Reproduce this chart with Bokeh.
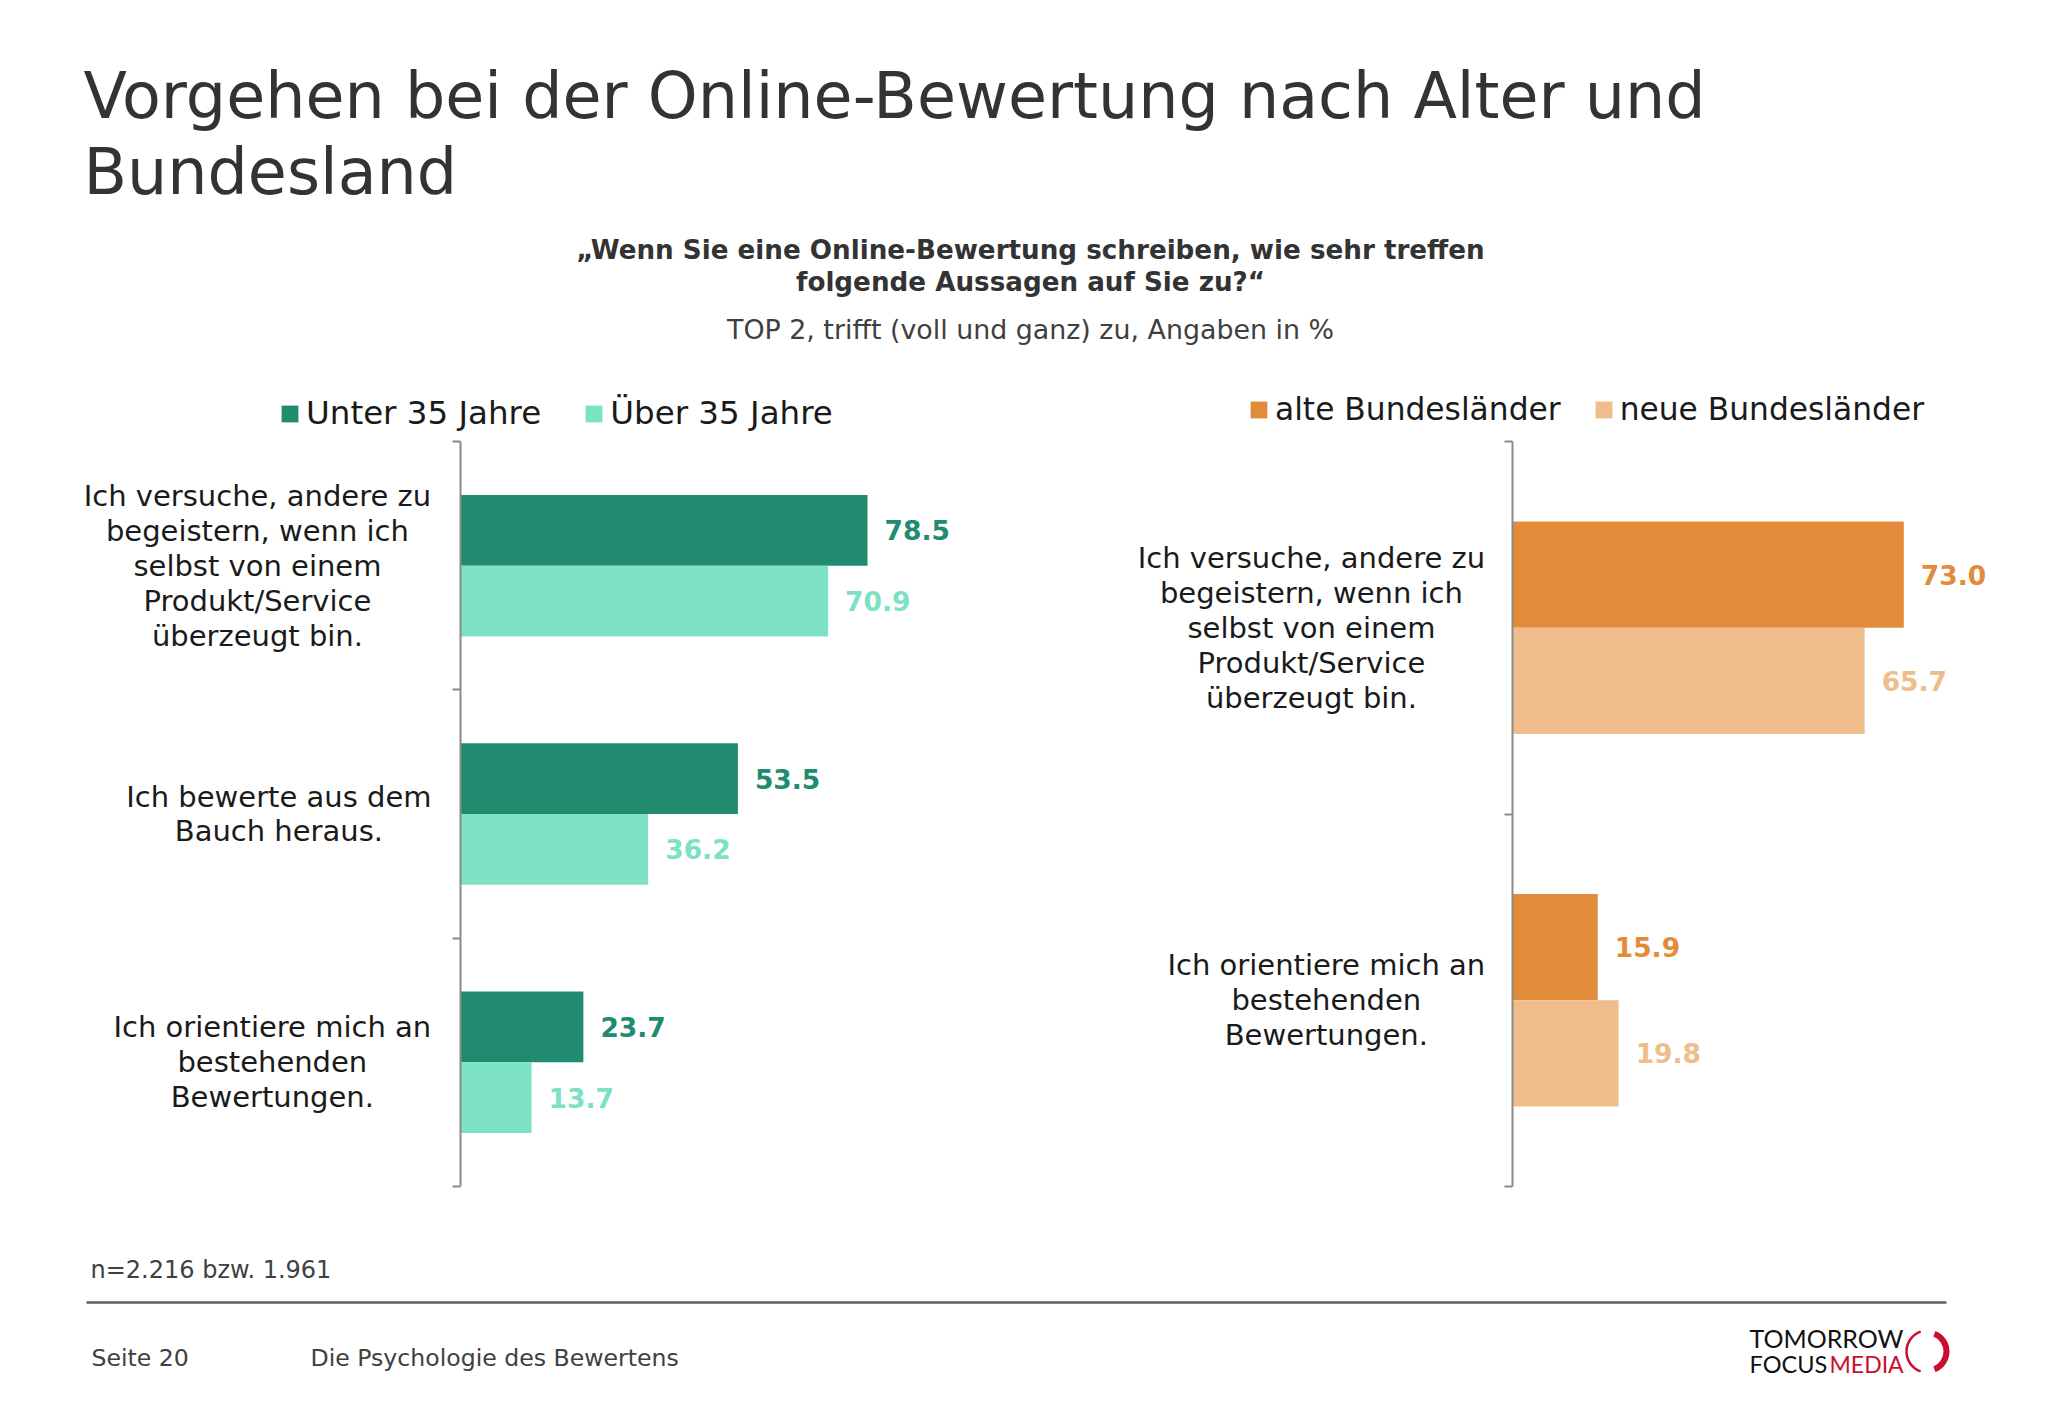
from bokeh.plotting import figure
from bokeh.layouts import column, row
from bokeh.models import Range1d, LinearAxis, FixedTicker, Legend, LegendItem
from bokeh.core.properties import value
from bokeh.embed import file_html
from bokeh.resources import INLINE

# ---------------- data ----------------
title_lines = ["Vorgehen bei der Online-Bewertung nach Alter und", "Bundesland"]
question_lines = ["\u201eWenn Sie eine Online-Bewertung schreiben, wie sehr treffen",
                  "folgende Aussagen auf Sie zu?\u201c"]
subtitle = "TOP 2, trifft (voll und ganz) zu, Angaben in %"

age_categories = [
    "Ich versuche, andere zu\nbegeistern, wenn ich\nselbst von einem\nProdukt/Service\nüberzeugt bin.",
    "Ich bewerte aus dem\nBauch heraus.",
    "Ich orientiere mich an\nbestehenden\nBewertungen.",
]
age_series = ["Unter 35 Jahre", "Über 35 Jahre"]
age_under35 = [78.5, 53.5, 23.7]
age_over35 = [70.9, 36.2, 13.7]

region_categories = [
    "Ich versuche, andere zu\nbegeistern, wenn ich\nselbst von einem\nProdukt/Service\nüberzeugt bin.",
    "Ich orientiere mich an\nbestehenden\nBewertungen.",
]
region_series = ["alte Bundesländer", "neue Bundesländer"]
region_old = [73.0, 15.9]
region_new = [65.7, 19.8]

footnote = "n=2.216 bzw. 1.961"
page_label = "Seite 20"
report_name = "Die Psychologie des Bewertens"

# ---------------- layout constants (screen px) ----------------
FONT = "DejaVu Sans"
PAGE_W = 2032
HEADER_H = 378
CHART_TOP = HEADER_H
CHART_H = 852
CHART_BOT = CHART_TOP + CHART_H   # 1230
FOOTER_H = 172
AX_TOP, AX_BOT = 441, 1186

GREEN_D, GREEN_L = "#218B70", "#7CE1C5"
ORANGE_D, ORANGE_L = "#E28C3B", "#EEBD8B"
TEXT_DARK = "#1a1a1a"
GREY_TXT = "#404040"
RED = "#c8102e"

DV = {' ': .318, ',': .318, '.': .318, '/': .337, 'B': .686, 'I': .295, 'P': .603,
      'S': .635, 'a': .613, 'b': .635, 'c': .550, 'd': .635, 'e': .615, 'g': .635,
      'h': .634, 'i': .278, 'k': .579, 'l': .278, 'm': .974, 'n': .634, 'o': .612,
      'r': .411, 's': .521, 't': .392, 'u': .634, 'v': .592, 'w': .818, 'z': .525,
      'ü': .634}


def text_w(s, fs):
    return sum(DV.get(ch, .6) for ch in s) * fs


def base_fig(width, height, x_range, y_range):
    p = figure(width=width, height=height, x_range=x_range, y_range=y_range,
               x_axis_type=None, y_axis_type=None, toolbar_location=None,
               output_backend="svg", min_border=0, outline_line_color=None,
               title=None)
    p.background_fill_color = "white"
    p.border_fill_color = "white"
    return p


def bar_chart(left_px, width, axis_px, px_per_unit, cats, s1, s2, names,
              colors, label_gap, legend_x, legend_cy, legend_spacing, legend_fs):
    n = len(cats)
    unit_y = (AX_BOT - AX_TOP) / n
    y_bottom = (CHART_BOT - AX_TOP) / unit_y
    y_top = (CHART_TOP - AX_TOP) / unit_y
    x_start = (left_px - axis_px) / px_per_unit
    x_end = (left_px + width - axis_px) / px_per_unit
    p = base_fig(width, CHART_H, Range1d(x_start, x_end), Range1d(y_bottom, y_top))

    h = 0.285
    yc = [i + 0.5 for i in range(n)]
    y1 = [y - h / 2 for y in yc]
    y2 = [y + h / 2 for y in yc]
    r1 = p.hbar(y=y1, left=0, right=s1, height=h, fill_color=colors[0], line_color=None)
    r2 = p.hbar(y=y2, left=0, right=s2, height=h, fill_color=colors[1], line_color=None)

    for ys, vals, col in ((y1, s1, colors[0]), (y2, s2, colors[1])):
        p.text(x=vals, y=ys, text=[f"{v:.1f}" for v in vals], x_offset=17,
               text_baseline="middle", text_align="left", text_font=value(FONT),
               text_font_style="bold", text_font_size="26.5px", text_color=col)

    fs = 29
    widths = [max(text_w(l, fs) for l in c.split("\n")) for c in cats]
    p.text(x=[0] * n, y=yc, text=cats, x_offset=[-(label_gap + w / 2) for w in widths],
           text_align="center", text_baseline="middle", text_font=value(FONT),
           text_font_size=f"{fs}px", text_line_height=35.3 / (fs * 1.185),
           text_color=TEXT_DARK)

    ax = LinearAxis(fixed_location=0, ticker=FixedTicker(ticks=list(range(n + 1))),
                    bounds=(0, n), major_label_overrides={i: "" for i in range(n + 1)},
                    major_label_text_font_size="1px", major_tick_in=0, major_tick_out=8,
                    minor_tick_line_color=None, axis_line_color="#8a8a8a",
                    major_tick_line_color="#8a8a8a", axis_line_width=2,
                    major_tick_line_width=2)
    p.add_layout(ax, "left")

    leg_h = 1.17 * legend_fs
    legend = Legend(items=[LegendItem(label=names[0], renderers=[r1]),
                           LegendItem(label=names[1], renderers=[r2])],
                    orientation="horizontal",
                    location=(legend_x - left_px, CHART_BOT - (legend_cy + leg_h / 2)),
                    glyph_width=21, glyph_height=21, label_standoff=6,
                    spacing=legend_spacing, padding=0, margin=0,
                    border_line_color=None, background_fill_alpha=0,
                    label_text_font=FONT, label_text_font_size=f"{legend_fs}px",
                    label_text_color=TEXT_DARK)
    p.add_layout(legend)
    return p


left = bar_chart(0, 1008, 460, 5.185, age_categories, age_under35, age_over35,
                 age_series, (GREEN_D, GREEN_L), 29, 279, 413, 42, 32.5)
right = bar_chart(1008, PAGE_W - 1008, 1512, 5.36, region_categories, region_old,
                  region_new, region_series, (ORANGE_D, ORANGE_L), 27, 1248, 409, 32, 31.3)

# ---------------- header ----------------
hdr = base_fig(PAGE_W, HEADER_H, Range1d(0, PAGE_W), Range1d(HEADER_H, 0))
hdr.text(x=[83, 83], y=[95, 171], text=title_lines, text_font=value(FONT),
         text_font_size="63.5px", text_color="#333333", text_baseline="alphabetic")
hdr.text(x=[1030, 1030], y=[249, 281], text=question_lines, text_font=value(FONT),
         text_font_style="bold", text_font_size="26.2px", text_color="#333333",
         text_align="center", text_baseline="alphabetic")
hdr.text(x=[1030], y=[329], text=[subtitle], text_font=value(FONT),
         text_font_size="26.85px", text_color=GREY_TXT, text_align="center",
         text_baseline="alphabetic")

# ---------------- footer ----------------
F0 = CHART_BOT
ftr = base_fig(PAGE_W, FOOTER_H, Range1d(0, PAGE_W), Range1d(FOOTER_H, 0))
ftr.text(x=[90], y=[53], text=[footnote], text_font=value(FONT),
         text_font_size="24px", text_color=GREY_TXT)
ftr.segment(x0=[86], y0=[1302 - F0], x1=[1946], y1=[1302 - F0],
            line_color="#5f5f5f", line_width=2.5)
ftr.text(x=[91, 310], y=[141, 141], text=[page_label, report_name],
         text_font=value(FONT), text_font_size="23.6px", text_color=GREY_TXT)
ftr.text(x=[1749], y=[122], text=["TOMORROW"], text_font=value("Lato"),
         text_font_size="25px", text_color="#111111")
ftr.text(x=[1749], y=[147], text=["FOCUS"], text_font=value("Lato"),
         text_font_size="23.5px", text_color="#111111")
ftr.text(x=[1829], y=[147], text=["MEDIA"], text_font=value("Lato"),
         text_font_size="23px", text_color=RED)
ftr.arc(x=[1927], y=[1351 - F0], radius=21, start_angle=1.9, end_angle=4.38,
        line_color=RED, line_width=2.5)
ftr.arc(x=[1927], y=[1351 - F0], radius=19, start_angle=-1.2, end_angle=1.2,
        line_color=RED, line_width=6)

page = column(hdr, row(left, right), ftr)
open("out.html", "w").write(file_html(page, INLINE))
